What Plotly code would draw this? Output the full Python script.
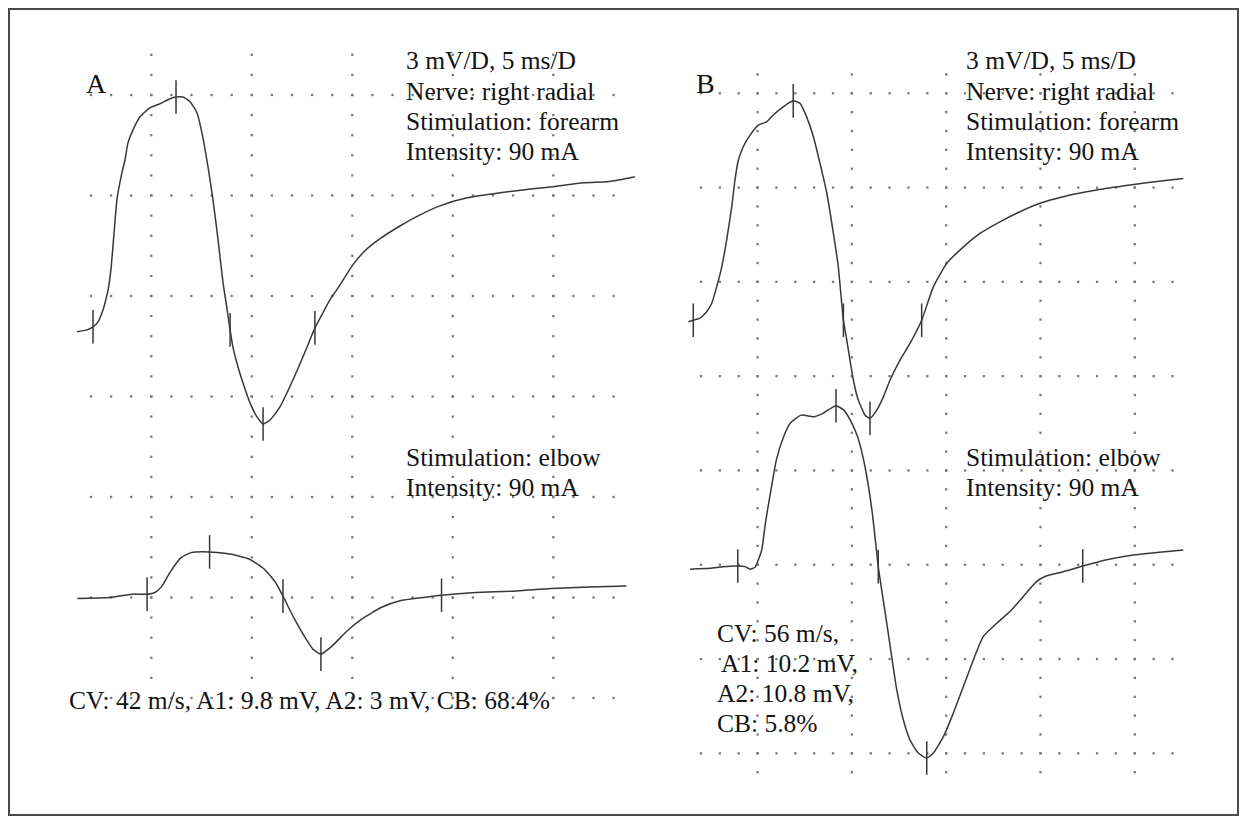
import plotly.graph_objects as go

# Reference canvas is 1247x824; the page body has an 8 px margin, so the figure
# is made 8 px smaller and all reference pixel positions are shifted by OFF.
REF_W, REF_H = 1247, 824
OFF = 8
W, H = REF_W - OFF, REF_H - OFF

# ---------------- DATA (time in ms, amplitude in mV relative to trace start) ----------------
# Panel A - forearm stimulation
a_fore_t = [-0.70, -0.20, 0.10, 0.35, 0.60, 0.70, 0.85, 1.00, 1.14, 1.29, 1.54, 1.69, 1.84, 2.09,
            2.44, 2.94, 3.43, 3.93, 4.23, 4.58, 4.93, 5.27, 5.52, 5.82, 6.07, 6.32, 6.57, 6.72,
            6.92, 7.06, 7.31, 7.56, 7.91, 8.26, 8.56, 8.91, 9.40, 10.05, 10.75, 11.14, 11.54,
            11.89, 12.39, 12.99, 13.63, 14.38, 15.37, 16.37, 17.36, 18.71, 20.35, 21.99, 22.99,
            24.48, 25.67, 26.32, 27.06]
a_fore_mv = [0.00, 0.06, 0.15, 0.30, 0.66, 0.87, 1.25, 1.91, 2.90, 3.94, 4.75, 5.13, 5.64, 6.03,
             6.42, 6.69, 6.81, 6.96, 7.01, 7.01, 6.87, 6.54, 5.94, 4.93, 3.94, 2.75, 1.46, 0.87,
             0.06, -0.45, -1.04, -1.52, -2.12, -2.54, -2.75, -2.63, -2.24, -1.43, -0.45, 0.12, 0.57,
             0.96, 1.40, 1.97, 2.42, 2.78, 3.16, 3.49, 3.76, 4.00, 4.15, 4.27, 4.33,
             4.45, 4.48, 4.54, 4.63]
a_fore_tick_t = [0.10, 4.23, 6.92, 8.56, 11.14]
a_fore_tick_mv = [0.15, 7.01, 0.06, -2.75, 0.12]

# Panel A - elbow stimulation
a_elb_t = [-0.68, 0.92, 2.04, 2.79, 3.18, 3.53, 3.93, 4.48, 4.98, 5.90, 6.92, 7.86, 8.61, 9.18,
           9.55, 10.12, 10.70, 11.04, 11.44, 11.99, 12.74, 13.48, 14.43, 15.37, 16.52, 17.44,
           19.13, 21.02, 22.89, 24.78, 26.64]
a_elb_mv = [0.00, 0.03, 0.13, 0.13, 0.18, 0.37, 0.78, 1.22, 1.37, 1.39, 1.33, 1.18, 0.88, 0.48,
            0.07, -0.61, -1.21, -1.51, -1.66, -1.42, -0.97, -0.61, -0.27, -0.07, 0.03, 0.10,
            0.18, 0.22, 0.30, 0.34, 0.37]
a_elb_tick_t = [2.79, 5.90, 9.55, 11.44, 17.44]
a_elb_tick_mv = [0.13, 1.39, 0.07, -1.66, 0.10]

# Panel B - forearm stimulation
b_fore_t = [-0.67, -0.41, -0.05, 0.30, 0.57, 0.83, 1.10, 1.36, 1.63, 1.80, 1.98, 2.24, 2.60, 3.04,
            3.48, 3.83, 4.36, 4.89, 5.25, 5.60, 5.96, 6.31, 6.67, 7.02, 7.28, 7.55, 7.73, 7.90,
            8.08, 8.34, 8.70, 8.96, 9.32, 9.67, 10.02, 10.55, 11.08, 11.70, 12.32, 13.03, 13.73,
            14.79, 15.85, 16.91, 17.97, 19.21, 20.98, 22.75, 24.51, 25.57]
b_fore_mv = [0.00, 0.05, 0.12, 0.32, 0.59, 1.11, 1.75, 2.60, 3.66, 4.51, 5.14, 5.57, 5.94, 6.26,
             6.36, 6.58, 6.84, 7.03, 6.95, 6.52, 5.89, 5.04, 4.09, 2.81, 1.75, 0.05, -0.58, -1.22,
             -1.86, -2.49, -2.97, -3.07, -2.81, -2.39, -1.86, -1.22, -0.69, 0.05, 1.11, 1.86, 2.28,
             2.81, 3.18, 3.50, 3.77, 3.98, 4.19, 4.35, 4.49, 4.56]
b_fore_tick_t = [-0.41, 4.89, 7.55, 8.96, 11.70]
b_fore_tick_mv = [0.05, 7.03, 0.05, -3.07, 0.05]

# Panel B - elbow stimulation
b_elb_t = [-0.58, 0.48, 1.18, 1.95, 2.33, 2.60, 2.86, 3.04, 3.22, 3.42, 3.71, 3.99, 4.36, 4.74,
           5.31, 5.97, 6.44, 7.16, 7.57, 7.95, 8.32, 8.70, 9.08, 9.40, 9.58, 9.85, 10.11, 10.38,
           10.73, 11.08, 11.52, 11.97, 12.32, 12.85, 13.38, 13.91, 14.44, 14.97, 15.68, 16.38,
           17.09, 17.80, 18.33, 19.21, 20.24, 21.51, 22.92, 24.16, 25.57]
b_elb_mv = [0.00, 0.03, 0.08, 0.10, 0.08, 0.00, 0.06, 0.30, 0.61, 1.49, 2.52, 3.46, 4.18, 4.65,
            4.90, 4.85, 4.95, 5.20, 5.06, 4.70, 4.18, 3.25, 1.80, 0.08, -0.66, -1.72, -2.78, -3.84,
            -4.80, -5.43, -5.85, -6.01, -5.85, -5.33, -4.58, -3.74, -2.89, -2.14, -1.72, -1.35,
            -0.87, -0.39, -0.21, -0.08, 0.10, 0.30, 0.45, 0.53, 0.61]
b_elb_tick_t = [1.95, 7.16, 9.40, 11.97, 20.24]
b_elb_tick_mv = [0.10, 5.20, 0.08, -6.01, 0.10]

# Graticule (3 mV/D, 5 ms/D, 5 dots per division)
grid_cols_ms = [3, 8, 13, 18, 23]
a_grid_rows_mv = [0, -3, -6, -9, -12, -15, -18]
b_grid_rows_mv = [0, -3, -6, -9, -12, -15, -18, -21]

# Text
header_lines = ["3 mV/D, 5 ms/D", "Nerve: right radial", "Stimulation: forearm", "Intensity: 90 mA"]
elbow_lines = ["Stimulation: elbow", "Intensity: 90 mA"]
a_result = "CV: 42 m/s, A1: 9.8 mV, A2: 3 mV, CB: 68.4%"
b_result_lines = ["CV: 56 m/s,", "A1: 10.2 mV,", "A2: 10.8 mV,", "CB: 5.8%"]

# ---------------- LAYOUT GEOMETRY (reference pixels) ----------------
PANELS = {
    "A": dict(x0=91.0, y0=95.0, ppms=20.1, ppmv=33.5, box=(40, 40, 662, 740),
              fore_off=-7.07, elb_off=-15.03, top_extra=2, bot_extra=0, ndots=26),
    "B": dict(x0=701.0, y0=93.3, ppms=18.86, ppmv=31.43, box=(668, 40, 1212, 795),
              fore_off=-7.27, elb_off=-15.14, top_extra=1, bot_extra=1, ndots=25),
}

TRACE_COLOR = "#383838"
DOT_COLOR = "#7a7a7a"
FONT = "Liberation Serif, Times New Roman, serif"


def xp(px):
    return (px - OFF) / W


def yp(py):
    return 1 - (py - OFF) / H


fig = go.Figure()
layout_axes = {}

data_sets = {
    "A": (a_fore_t, a_fore_mv, a_fore_tick_t, a_fore_tick_mv,
          a_elb_t, a_elb_mv, a_elb_tick_t, a_elb_tick_mv, a_grid_rows_mv),
    "B": (b_fore_t, b_fore_mv, b_fore_tick_t, b_fore_tick_mv,
          b_elb_t, b_elb_mv, b_elb_tick_t, b_elb_tick_mv, b_grid_rows_mv),
}

for i, key in enumerate(["A", "B"]):
    p = PANELS[key]
    n = "" if i == 0 else str(i + 1)
    xa, ya = "x" + n, "y" + n
    bx0, by0, bx1, by1 = p["box"]
    xr = [(bx0 - p["x0"]) / p["ppms"], (bx1 - p["x0"]) / p["ppms"]]
    yr = [(p["y0"] - by1) / p["ppmv"], (p["y0"] - by0) / p["ppmv"]]
    ax_common = dict(visible=False, showgrid=False, zeroline=False, fixedrange=True)
    layout_axes["xaxis" + n] = dict(domain=[xp(bx0), xp(bx1)], range=xr, anchor=ya, **ax_common)
    layout_axes["yaxis" + n] = dict(domain=[yp(by1), yp(by0)], range=yr, anchor=xa, **ax_common)

    (ft, fv, ftt, ftv, et, ev, ett, etv, rows) = data_sets[key]

    # graticule dots
    gx, gy = [], []
    step_mv = 0.6
    for r in rows:
        for k in range(p["ndots"] + 1):
            gx.append(k * 1.0)
            gy.append(r)
    vtop = rows[0] + p["top_extra"] * step_mv
    vbot = rows[-1] - p["bot_extra"] * step_mv
    nv = int(round((vtop - vbot) / step_mv))
    for c in grid_cols_ms:
        for j in range(nv + 1):
            gx.append(c)
            gy.append(vtop - j * step_mv)
    fig.add_trace(go.Scatter(x=gx, y=gy, mode="markers", xaxis=xa, yaxis=ya,
                             marker=dict(symbol="square", size=2.3, color=DOT_COLOR),
                             hoverinfo="skip", showlegend=False))

    for (tt, vv, tkt, tkv, off) in [(ft, fv, ftt, ftv, p["fore_off"]), (et, ev, ett, etv, p["elb_off"])]:
        fig.add_trace(go.Scatter(x=tt, y=[v + off for v in vv], mode="lines", xaxis=xa, yaxis=ya,
                                 line=dict(color=TRACE_COLOR, width=1.5, shape="spline", smoothing=0.5),
                                 showlegend=False))
        fig.add_trace(go.Scatter(x=tkt, y=[v + off for v in tkv], mode="markers", xaxis=xa, yaxis=ya,
                                 marker=dict(symbol="line-ns", size=24,
                                             line=dict(color=TRACE_COLOR, width=1.5)),
                                 showlegend=False))

annotations = []


def add_text(text, xpx, ypx, size=25.5):
    annotations.append(dict(text=text, x=xp(xpx), y=yp(ypx), xref="paper", yref="paper",
                            xanchor="left", yanchor="middle", showarrow=False,
                            font=dict(family=FONT, size=size, color="#141414")))


for j, line in enumerate(header_lines):
    add_text(line, 404, 61 + j * 30.3)
    add_text(line, 964, 61 + j * 30.3)
for j, line in enumerate(elbow_lines):
    add_text(line, 404, 457 + j * 30)
    add_text(line, 964, 457 + j * 30)
add_text(a_result, 67, 700)
for j, line in enumerate(b_result_lines):
    add_text(line, 715 + (4 if j == 1 else 0), 633 + j * 30.3)
add_text("A", 84, 83, size=28)
add_text("B", 694, 83, size=28)

fig.update_layout(
    width=W, height=H, margin=dict(l=0, r=0, t=0, b=0, pad=0),
    paper_bgcolor="white", plot_bgcolor="rgba(0,0,0,0)", showlegend=False,
    annotations=annotations,
    shapes=[dict(type="rect", xref="paper", yref="paper", x0=xp(9), x1=xp(1238),
                 y0=yp(815), y1=yp(9), line=dict(color="#4a4a4a", width=2))],
    **layout_axes,
)

fig.write_html("out.html")
